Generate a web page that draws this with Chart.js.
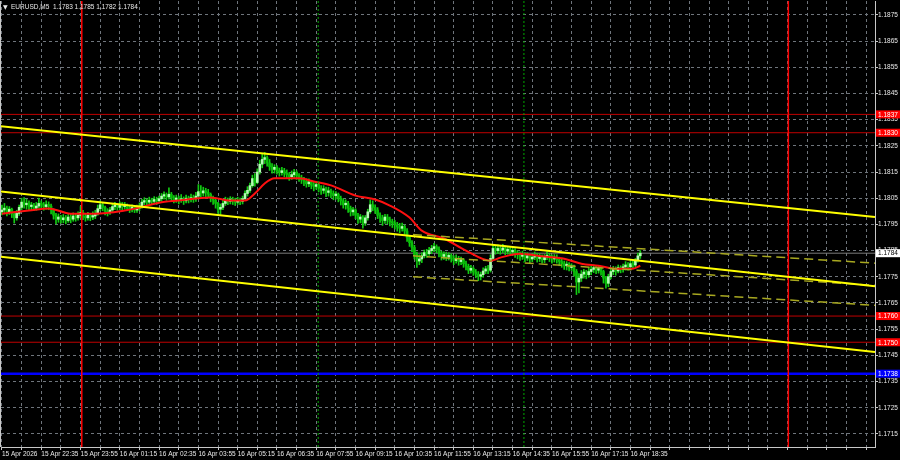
<!DOCTYPE html>
<html>
<head>
<meta charset="utf-8">
<script src="https://cdn.jsdelivr.net/npm/chart.js@4.4.1/dist/chart.umd.min.js"></script>
<style>html,body{margin:0;padding:0;background:#000}canvas{display:block}</style>
</head>
<body>
<canvas id="c" width="900" height="460"></canvas>
<script>
// ─── DATA: EURUSD M5, bar index 0 = 15 Apr 21:15 ─────────────────────
const SYMBOL='EURUSD,M5';
const LAST_OHLC=['1.1783','1.1785','1.1782','1.1784'];
const firstOpen=1.17998;
const closes=[
1.18005,1.18012,1.17998,1.18008,1.17990,1.17975,1.17992,1.18015,1.18035,1.18025,
1.18030,1.18018,1.18022,1.18012,1.18020,1.18030,1.18025,1.18018,1.18025,1.18020,
1.18005,1.17985,1.17970,1.17978,1.17968,1.17975,1.17965,1.17978,1.17970,1.17982,
1.17975,1.17985,1.17995,1.17980,1.17975,1.17985,1.17978,1.17982,1.17990,1.18010,
1.18025,1.18015,1.18000,1.17995,1.18005,1.18018,1.18022,1.18015,1.18025,1.18018,
1.18022,1.18012,1.18008,1.18015,1.18005,1.18012,1.18020,1.18035,1.18040,1.18035,
1.18042,1.18038,1.18045,1.18040,1.18048,1.18058,1.18062,1.18055,1.18065,1.18052,
1.18045,1.18050,1.18042,1.18048,1.18040,1.18050,1.18045,1.18052,1.18048,1.18058,
1.18075,1.18070,1.18078,1.18072,1.18065,1.18050,1.18042,1.18030,1.18008,1.18015,
1.18030,1.18042,1.18038,1.18045,1.18040,1.18035,1.18042,1.18038,1.18048,1.18068,
1.18080,1.18098,1.18125,1.18110,1.18150,1.18180,1.18198,1.18205,1.18185,1.18170,
1.18160,1.18168,1.18155,1.18148,1.18155,1.18145,1.18140,1.18132,1.18140,1.18148,
1.18135,1.18128,1.18120,1.18115,1.18105,1.18112,1.18100,1.18095,1.18102,1.18088,
1.18080,1.18085,1.18072,1.18078,1.18068,1.18060,1.18065,1.18050,1.18040,1.18025,
1.18030,1.18012,1.17998,1.18005,1.17985,1.17970,1.17978,1.17955,1.17975,1.17998,
1.18025,1.18015,1.18005,1.17985,1.17975,1.17965,1.17978,1.17968,1.17960,1.17955,
1.17948,1.17940,1.17935,1.17942,1.17925,1.17900,1.17880,1.17862,1.17835,1.17810,
1.17818,1.17830,1.17842,1.17838,1.17850,1.17858,1.17865,1.17855,1.17840,1.17828,
1.17835,1.17825,1.17832,1.17820,1.17812,1.17820,1.17808,1.17815,1.17800,1.17790,
1.17775,1.17782,1.17768,1.17760,1.17752,1.17758,1.17772,1.17780,1.17775,1.17820,
1.17858,1.17850,1.17858,1.17852,1.17860,1.17848,1.17855,1.17845,1.17850,1.17840,
1.17835,1.17828,1.17835,1.17822,1.17830,1.17818,1.17825,1.17832,1.17820,1.17828,
1.17815,1.17825,1.17832,1.17822,1.17818,1.17825,1.17815,1.17808,1.17800,1.17792,
1.17798,1.17785,1.17790,1.17770,1.17730,1.17745,1.17760,1.17768,1.17758,1.17770,
1.17778,1.17785,1.17775,1.17782,1.17770,1.17745,1.17725,1.17750,1.17770,1.17778,
1.17772,1.17785,1.17778,1.17788,1.17795,1.17788,1.17800,1.17795,1.17812,1.17830,
1.17840];
const highs=[
1.18024,1.18030,1.18020,1.18018,1.18012,1.17998,1.18004,1.18024,1.18050,1.18052,
1.18046,1.18040,1.18034,1.18030,1.18034,1.18050,1.18040,1.18034,1.18040,1.18036,
1.18028,1.18010,1.17992,1.17990,1.17985,1.17988,1.17984,1.17992,1.17988,1.17994,
1.17990,1.17998,1.18018,1.18004,1.17992,1.17996,1.17992,1.17998,1.18004,1.18024,
1.18040,1.18034,1.18020,1.18010,1.18015,1.18030,1.18034,1.18030,1.18036,1.18034,
1.18034,1.18028,1.18022,1.18025,1.18020,1.18024,1.18032,1.18046,1.18052,1.18048,
1.18054,1.18050,1.18056,1.18054,1.18058,1.18068,1.18074,1.18070,1.18090,1.18072,
1.18060,1.18062,1.18058,1.18064,1.18055,1.18062,1.18058,1.18066,1.18062,1.18072,
1.18102,1.18098,1.18092,1.18088,1.18084,1.18070,1.18058,1.18050,1.18034,1.18028,
1.18042,1.18054,1.18050,1.18056,1.18054,1.18050,1.18054,1.18050,1.18058,1.18078,
1.18094,1.18108,1.18138,1.18144,1.18162,1.18195,1.18218,1.18225,1.18212,1.18198,
1.18182,1.18178,1.18175,1.18165,1.18168,1.18164,1.18158,1.18148,1.18154,1.18160,
1.18155,1.18144,1.18138,1.18130,1.18124,1.18124,1.18118,1.18110,1.18114,1.18108,
1.18098,1.18098,1.18092,1.18092,1.18085,1.18078,1.18075,1.18070,1.18058,1.18048,
1.18044,1.18038,1.18020,1.18015,1.18010,1.17992,1.17988,1.17984,1.17984,1.18008,
1.18044,1.18040,1.18025,1.18014,1.17994,1.17985,1.17988,1.17988,1.17978,1.17970,
1.17965,1.17958,1.17954,1.17955,1.17948,1.17934,1.17908,1.17888,1.17870,1.17844,
1.17834,1.17842,1.17852,1.17855,1.17862,1.17870,1.17878,1.17872,1.17864,1.17848,
1.17845,1.17844,1.17842,1.17838,1.17830,1.17834,1.17828,1.17825,1.17820,1.17810,
1.17798,1.17794,1.17788,1.17778,1.17770,1.17768,1.17784,1.17790,1.17794,1.17834,
1.17874,1.17870,1.17872,1.17868,1.17874,1.17868,1.17865,1.17864,1.17860,1.17858,
1.17850,1.17845,1.17848,1.17842,1.17842,1.17835,1.17838,1.17845,1.17840,1.17838,
1.17834,1.17835,1.17845,1.17840,1.17834,1.17835,1.17834,1.17825,1.17818,1.17810,
1.17808,1.17804,1.17800,1.17795,1.17778,1.17762,1.17774,1.17778,1.17775,1.17784,
1.17790,1.17795,1.17794,1.17792,1.17788,1.17775,1.17752,1.17760,1.17780,1.17790,
1.17788,1.17795,1.17792,1.17798,1.17808,1.17804,1.17810,1.17814,1.17820,1.17840,
1.17850];
const lows=[
1.17986,1.17990,1.17982,1.17988,1.17976,1.17955,1.17966,1.17984,1.18006,1.18012,
1.18008,1.18004,1.18006,1.18002,1.18004,1.18012,1.18012,1.18004,1.18008,1.18006,
1.17990,1.17970,1.17952,1.17958,1.17955,1.17956,1.17952,1.17958,1.17956,1.17962,
1.17962,1.17966,1.17975,1.17968,1.17962,1.17966,1.17964,1.17968,1.17972,1.17985,
1.18002,1.18002,1.17986,1.17982,1.17988,1.17996,1.18006,1.18004,1.18006,1.18004,
1.18008,1.18002,1.17995,1.17998,1.17995,1.17996,1.18002,1.18012,1.18024,1.18022,
1.18026,1.18025,1.18028,1.18026,1.18032,1.18038,1.18046,1.18042,1.18046,1.18038,
1.18032,1.18034,1.18028,1.18034,1.18026,1.18032,1.18032,1.18036,1.18034,1.18038,
1.18052,1.18056,1.18058,1.18056,1.18052,1.18036,1.18026,1.18012,1.17992,1.17988,
1.18006,1.18022,1.18025,1.18028,1.18026,1.18022,1.18026,1.18025,1.18028,1.18042,
1.18058,1.18072,1.18092,1.18096,1.18105,1.18142,1.18166,1.18182,1.18172,1.18156,
1.18146,1.18146,1.18142,1.18134,1.18138,1.18132,1.18126,1.18118,1.18122,1.18126,
1.18122,1.18114,1.18106,1.18098,1.18092,1.18094,1.18086,1.18078,1.18084,1.18074,
1.18064,1.18068,1.18056,1.18058,1.18052,1.18044,1.18046,1.18036,1.18024,1.18012,
1.18008,1.17996,1.17982,1.17984,1.17972,1.17954,1.17956,1.17936,1.17946,1.17966,
1.17992,1.18002,1.17992,1.17972,1.17958,1.17946,1.17954,1.17952,1.17944,1.17938,
1.17932,1.17924,1.17918,1.17924,1.17912,1.17885,1.17866,1.17846,1.17818,1.17786,
1.17796,1.17804,1.17822,1.17824,1.17832,1.17838,1.17846,1.17842,1.17826,1.17814,
1.17816,1.17812,1.17814,1.17806,1.17796,1.17802,1.17794,1.17796,1.17786,1.17776,
1.17762,1.17764,1.17755,1.17746,1.17735,1.17738,1.17748,1.17762,1.17762,1.17768,
1.17812,1.17836,1.17838,1.17836,1.17842,1.17834,1.17836,1.17832,1.17832,1.17824,
1.17818,1.17812,1.17816,1.17808,1.17812,1.17804,1.17808,1.17815,1.17806,1.17808,
1.17802,1.17804,1.17815,1.17808,1.17802,1.17806,1.17802,1.17792,1.17786,1.17778,
1.17776,1.17772,1.17774,1.17752,1.17682,1.17688,1.17732,1.17745,1.17742,1.17748,
1.17758,1.17766,1.17762,1.17764,1.17756,1.17726,1.17706,1.17712,1.17742,1.17758,
1.17756,1.17765,1.17765,1.17768,1.17776,1.17775,1.17778,1.17782,1.17788,1.17806,
1.17820];
// red moving average, read at a few bars
const maIdx=[0,11,19,28,38,50,56,64,72,85,93,99,103,107,111,121,127,134,144,152,158,166,171,180,189,199,203,211,221,229,236,243,250,257,260];
const maVals=[1.17991,1.18003,1.18011,1.17991,1.17991,1.18003,1.18014,1.18033,1.18041,1.18053,1.18041,1.18041,1.18068,1.18106,1.18126,1.18126,1.18114,1.18099,1.18060,1.18045,1.18022,1.17976,1.17926,1.17896,1.17850,1.17811,1.17823,1.17838,1.17827,1.17819,1.17800,1.17792,1.17781,1.17781,1.17792];
// axis
const xLabelIdx=[0,16,32,48,64,80,96,112,128,144,160,176,192,208,224,240,256];
const xLabels=['15 Apr 2026','15 Apr 22:35','15 Apr 23:55','16 Apr 01:15','16 Apr 02:35','16 Apr 03:55','16 Apr 05:15','16 Apr 06:35','16 Apr 07:55','16 Apr 09:15','16 Apr 10:35','16 Apr 11:55','16 Apr 13:15','16 Apr 14:35','16 Apr 15:55','16 Apr 17:15','16 Apr 18:35'];
const yTicks=[1.1715,1.1725,1.1735,1.1745,1.1755,1.1765,1.1775,1.1785,1.1795,1.1805,1.1815,1.1825,1.1835,1.1845,1.1855,1.1865,1.1875];
// drawn objects: trend channel (start/end price), regression channel, levels
const chanIdx=[-0.8,355.6];
const chanUpper=[1.18325,1.17978];
const chanMid=[1.18076,1.17714];
const chanLow=[1.17827,1.17463];
const regIdx=[167.4,355.6];
const regUpper=[1.17911,1.17802];
const regMid=[1.17830,1.17717];
const regLow=[1.17750,1.17641];
const redLevels=[1.1837,1.1830,1.1760,1.1750];
const blueLevels=[1.1738];
const lastPrice=1.1784;
const dayLines=[32.5,320.3];
const sessionLines=[128.8,212.6];

// ─── STYLE ──────────────────────────────────────────────────────────
const X_MIN=-0.4, X_MAX=355.6, Y_MIN=1.17100, Y_MAX=1.18803;
const FONT="'Liberation Sans', Arial, sans-serif";
const TXT='#e8e8e8', GRID='#6f757c', FRAME='#c8c8c8';
const WICK='#12cc12', BULL='#b2ffb2', BEAR='#08c008';

const opens=closes.map((c,i)=>i?closes[i-1]:firstOpen);

function seg(xs,ys,color,width,dash,order){
  return {type:'line',data:[{x:xs[0],y:ys[0]},{x:xs[1],y:ys[1]}],borderColor:color,borderWidth:width,
    borderDash:dash||[],pointRadius:0,fill:false,order:order};
}

const datasets=[
  {type:'bar',data:closes.map((c,i)=>({x:i,y:[lows[i],highs[i]]})),backgroundColor:WICK,
   barThickness:1,grouped:false,order:40},
  {type:'bar',data:closes.map((c,i)=>({x:i,y:[opens[i],c]})),
   backgroundColor:closes.map((c,i)=>c>=opens[i]?BULL:BEAR),barThickness:2,minBarLength:1.5,grouped:false,order:39},
  seg([X_MIN,X_MAX],[lastPrice,lastPrice],'#7a7a7a',1,null,50),
  {type:'line',data:maIdx.map((v,k)=>({x:v,y:maVals[k]})),borderColor:'#ff1010',borderWidth:2,
   pointRadius:0,fill:false,cubicInterpolationMode:'monotone',order:20},
  seg(regIdx,regUpper,'#a8a820',1.5,[9,5],10),
  seg(regIdx,regMid,'#a8a820',1.5,[9,5],10),
  seg(regIdx,regLow,'#a8a820',1.5,[9,5],10),
  seg(chanIdx,chanUpper,'#ffff00',2,null,5),
  seg(chanIdx,chanMid,'#ffff00',2,null,5),
  seg(chanIdx,chanLow,'#ffff00',2,null,5)
];
redLevels.forEach(v=>datasets.push(seg([X_MIN,X_MAX],[v,v],'#c00000',1,null,8)));
blueLevels.forEach(v=>datasets.push(seg([X_MIN,X_MAX],[v,v],'#0000ff',2.5,null,8)));
dayLines.forEach(v=>datasets.push(seg([v,v],[Y_MIN,Y_MAX],'#ff0000',1.5,null,7)));
sessionLines.forEach(v=>datasets.push(seg([v,v],[Y_MIN,Y_MAX],'#00a800',1,[2,2],7)));

// ─── FRAME, TITLE, PRICE TAGS ────────────────────────────────────────
const mtDecor={
  id:'mtDecor',
  beforeDraw(c){
    const ctx=c.ctx; ctx.save(); ctx.fillStyle='#000'; ctx.fillRect(0,0,c.width,c.height); ctx.restore();
  },
  afterDraw(c){
    const ctx=c.ctx, a=c.chartArea, ys=c.scales.y;
    ctx.save();
    ctx.strokeStyle=FRAME; ctx.lineWidth=1;
    ctx.beginPath(); ctx.moveTo(a.left-0.5,a.top); ctx.lineTo(a.left-0.5,a.bottom); ctx.stroke();
    // title
    ctx.fillStyle=TXT; ctx.textBaseline='middle';
    ctx.font="6px 'DejaVu Sans'"; ctx.fillText('\u25BC',3,7);
    ctx.font='6.5px '+FONT;
    ctx.fillText(SYMBOL+'  '+LAST_OHLC.join(' '),11,7);
    // price tags on the right axis
    const tag=(v,bg,fg)=>{
      const y=ys.getPixelForValue(v);
      ctx.fillStyle=bg; ctx.fillRect(a.right+1,y-4,24,8);
      ctx.fillStyle=fg; ctx.fillText(v.toFixed(4),a.right+3,y+0.5);
    };
    redLevels.forEach(v=>tag(v,'#ff0000','#ffffff'));
    blueLevels.forEach(v=>tag(v,'#0000ff','#ffffff'));
    tag(lastPrice,'#ffffff','#000000');
    ctx.restore();
  }
};

new Chart(document.getElementById('c'),{
  type:'bar',
  data:{datasets},
  options:{
    responsive:false,animation:false,devicePixelRatio:1,
    layout:{padding:{left:1,top:1,right:0,bottom:0}},
    plugins:{legend:{display:false},tooltip:{enabled:false}},
    scales:{
      x:{type:'linear',min:X_MIN,max:X_MAX,offset:false,
        grid:{offset:false,color:GRID,tickColor:FRAME,tickLength:3},
        border:{display:true,color:FRAME,dash:[3,3]},
        ticks:{autoSkip:false,maxRotation:0,minRotation:0,align:'start',padding:0,color:TXT,
          font:{family:FONT,size:6.5},
          callback:v=>{const k=xLabelIdx.indexOf(v);return k<0?'':xLabels[k];}},
        afterBuildTicks:s=>{const t=[];for(let v=0;v<=X_MAX;v+=8)t.push({value:v});s.ticks=t;},
        afterFit:s=>{s.height=13;s.paddingLeft=0;s.paddingRight=0;}
      },
      y:{type:'linear',position:'right',min:Y_MIN,max:Y_MAX,
        grid:{color:GRID,tickColor:FRAME,tickLength:3},
        border:{display:true,color:FRAME,dash:[3,3]},
        ticks:{padding:0,color:TXT,font:{family:FONT,size:6.5},callback:v=>v.toFixed(4)},
        afterBuildTicks:s=>{s.ticks=yTicks.map(v=>({value:v}));},
        afterFit:s=>{s.width=25;s.paddingTop=0;s.paddingBottom=0;}
      }
    }
  },
  plugins:[mtDecor]
});
</script>
</body>
</html>
